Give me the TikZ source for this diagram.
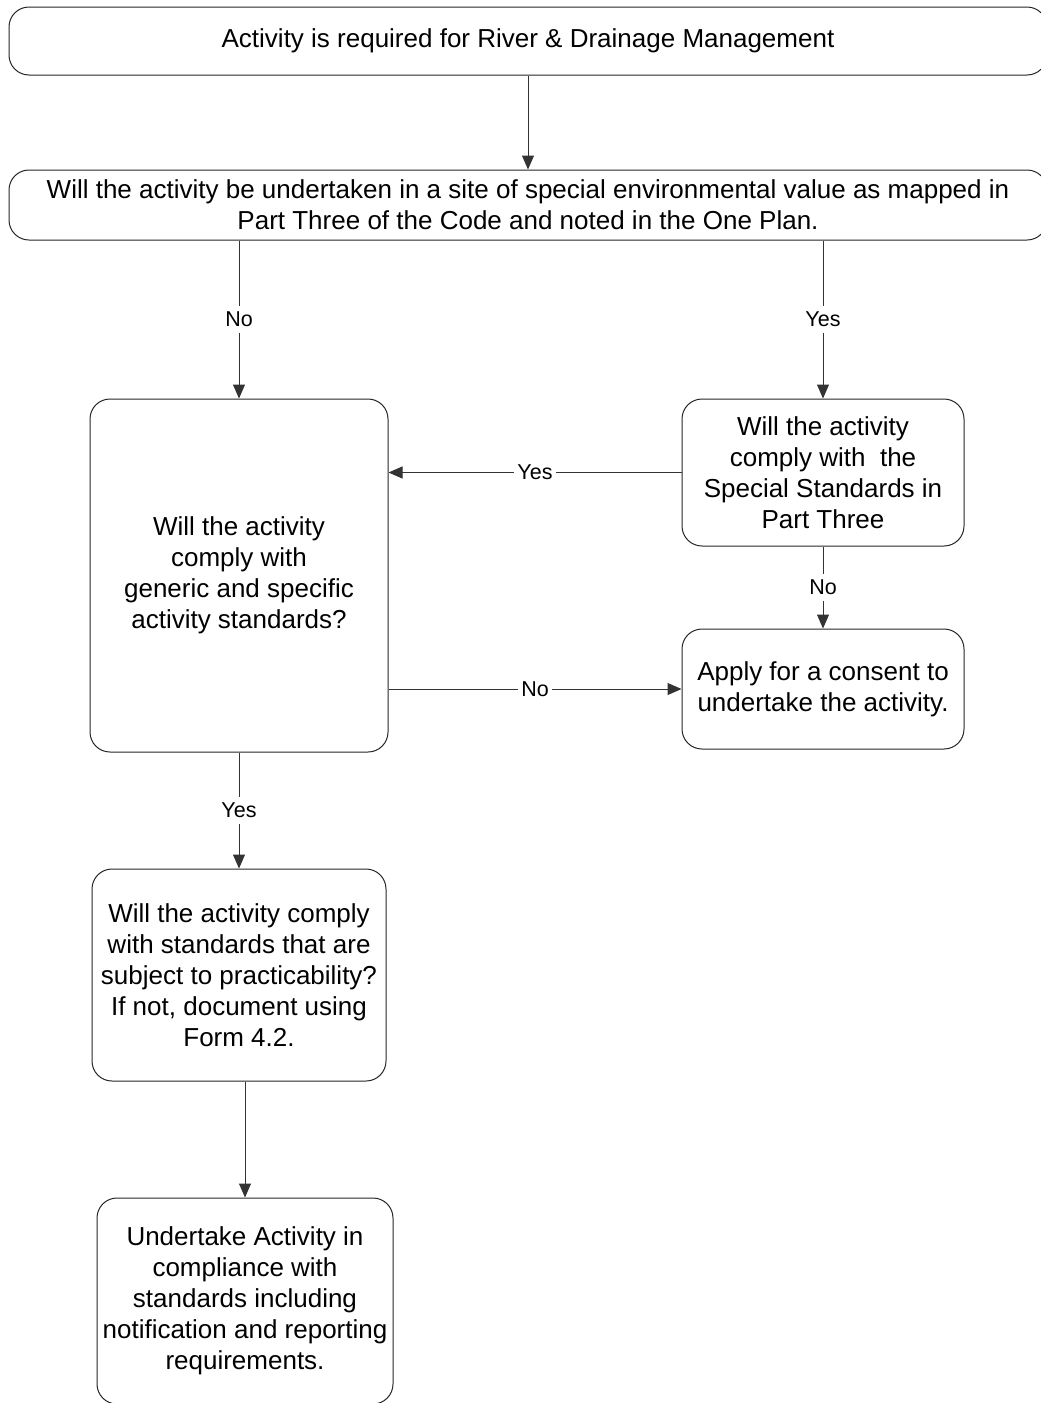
\documentclass[tikz,border=0pt]{standalone}
\usepackage{fontspec}
\setmainfont{Liberation Sans}
\usetikzlibrary{arrows.meta}
\begin{document}
\begin{tikzpicture}[x=1pt,y=-1pt,
  box/.style={draw=black!85, line width=1pt, rounded corners=20pt, align=center,
    inner sep=0pt, font=\fontsize{26}{31}\selectfont},
  conn/.style={draw=black!80, line width=1pt, -{Triangle[length=14pt,width=12pt]}},
  lbl/.style={fill=white, inner xsep=3pt, inner ysep=6pt, font=\fontsize{21.5}{25}\selectfont}]
\useasboundingbox (0,0) rectangle (1041,1403);
\node[box, minimum width=1038pt, minimum height=68pt] (n1) at (528,41)
  {Activity is required for River \& Drainage Management};
\node[box, minimum width=1038pt, minimum height=70pt] (n2) at (528,205)
  {Will the activity be undertaken in a site of special environmental value as mapped in\\Part Three of the Code and noted in the One Plan.};
\node[box, minimum width=298pt, minimum height=353pt] (n3) at (239,575.5)
  {Will the activity\\comply with\\generic and specific\\activity standards?};
\node[box, minimum width=282pt, minimum height=147pt] (n4) at (823,472.5)
  {Will the activity\\comply with\ \ the\\Special Standards in\\Part Three};
\node[box, minimum width=282pt, minimum height=120pt] (n5) at (823,689)
  {Apply for a consent to\\undertake the activity.};
\node[box, minimum width=294pt, minimum height=212pt] (n6) at (239,975)
  {Will the activity comply\\with standards that are\\subject to practicability?\\If not, document using\\Form 4.2.};
\node[box, minimum width=296pt, minimum height=206pt] (n7) at (245,1301)
  {Undertake Activity in\\compliance with\\standards including\\notification and reporting\\requirements.};
\path[conn] (n1) -- (n2);
\path[conn] (n2.south -| n3.north) -- node[lbl]{No} (n3.north);
\path[conn] (n2.south -| n4.north) -- node[lbl]{Yes} (n4.north);
\path[conn] (n4.west) -- node[lbl]{Yes} (n3.east |- n4.west);
\path[conn] (n3.east |- n5.west) -- node[lbl]{No} (n5.west);
\path[conn] (n4.south) -- node[lbl]{No} (n5.north);
\path[conn] (n3.south) -- node[lbl]{Yes} (n6.north);
\path[conn] (n7.north |- n6.south) -- (n7.north);
\end{tikzpicture}
\end{document}
